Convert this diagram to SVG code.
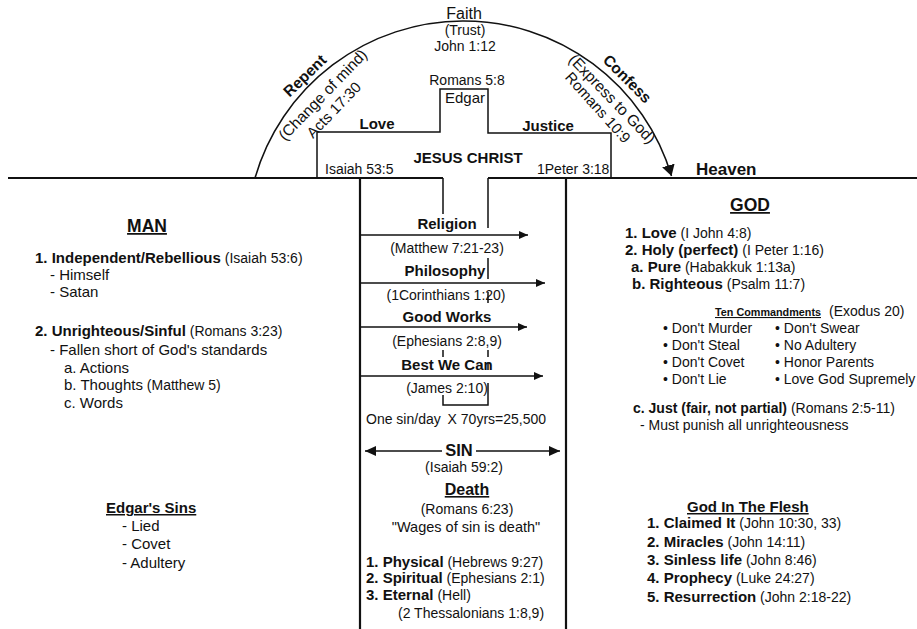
<svg xmlns="http://www.w3.org/2000/svg" width="917" height="629" viewBox="0 0 917 629">
<style>
text{font-family:"Liberation Sans",Arial,Helvetica,sans-serif;fill:#111;font-size:14px}
.b{font-weight:bold;font-size:15px}
.p{font-size:15px}
.h{font-weight:bold;font-size:17.5px;text-decoration:underline}
.m{text-anchor:middle}
.u{text-decoration:underline}
.ln{stroke:#111;fill:none;stroke-width:1.5}
.thick{stroke:#111;fill:none;stroke-width:2.2}
.arr{stroke:#111;fill:none;stroke-width:1.5;marker-end:url(#ah)}
</style>
<defs>
<marker id="ah" viewBox="0 0 9 8" refX="9" refY="4" markerWidth="9" markerHeight="8" markerUnits="userSpaceOnUse" orient="auto"><path d="M0,0 L9,4 L0,8 z" fill="#111"/></marker>
<marker id="ahs" viewBox="0 0 11 10" refX="11" refY="5" markerWidth="11" markerHeight="10" markerUnits="userSpaceOnUse" orient="auto-start-reverse"><path d="M0,0 L11,5 L0,10 z" fill="#111"/></marker>
<marker id="ahb" viewBox="0 0 11 13" refX="11" refY="6.5" markerWidth="11" markerHeight="13" markerUnits="userSpaceOnUse" orient="auto"><path d="M0,0 L11,6.5 L0,13 z" fill="#111"/></marker>
</defs>
<rect width="917" height="629" fill="#fff"/>

<g id="connectors">
  <!-- horizon -->
  <path class="thick" d="M8,178 H443 M488,178 H917"/>
  <!-- faith arc -->
  <path class="ln" d="M255,178 A217,217 0 0 1 671.5,176" marker-end="url(#ahb)"/>
  <!-- central column -->
  <path class="thick" d="M360,178 V629 M566,178 V629"/>
  <!-- cross stem and fragments -->
  <path class="ln" d="M443,178 V214 M488,178 V228 M488,258 V279 M488,292 V303 M443,350 V357 M488,350 V357 M488,362 V370 M488,383 V405 H443 V395"/>
  <!-- human effort arrows -->
  <path class="arr" d="M360,235 H528"/>
  <path class="arr" d="M360,283 H545"/>
  <path class="arr" d="M360,327 H527"/>
  <path class="arr" d="M360,376 H543"/>
  <!-- SIN separation arrow -->
  <path class="ln" d="M365,451 H442" marker-start="url(#ahs)"/>
  <path class="ln" d="M476,451 H560" marker-end="url(#ahs)"/>
</g>

<g id="cross">
  <path class="ln" d="M317,178 V132 H440 V89 H488 V133 H611 V178"/>
  <text x="467" y="85" class="m">Romans 5:8</text>
  <text x="465" y="103" class="m p">Edgar</text>
  <text x="377" y="129" class="m b">Love</text>
  <text x="548" y="131" class="m b">Justice</text>
  <text x="468" y="163" class="m b">JESUS CHRIST</text>
  <text x="325" y="174">Isaiah 53:5</text>
  <text x="537" y="174">1Peter 3:18</text>
</g>

<g id="faith">
  <text x="464" y="19" class="m" style="font-size:16px">Faith</text>
  <text x="465" y="35" class="m">(Trust)</text>
  <text x="465" y="51" class="m">John 1:12</text>
  <text transform="translate(308.5,79.5) rotate(-44)" class="m b" style="font-size:15.5px">Repent</text>
  <text transform="translate(326.5,98.5) rotate(-46)" class="m" style="font-size:15.5px">(Change of mind)</text>
  <text transform="translate(337.5,113.5) rotate(-46)" class="m p">Acts 17:30</text>
  <text transform="translate(623.5,82.5) rotate(45)" class="m b" style="font-size:15.5px">Confess</text>
  <text transform="translate(608.5,102.5) rotate(46)" class="m" style="font-size:15.5px">(Express to God)</text>
  <text transform="translate(594,111) rotate(48)" class="m p">Romans 10:9</text>
</g>

<g id="heaven">
  <text x="696" y="175" class="b" style="font-size:17px">Heaven</text>
</g>

<g id="man">
  <text x="147" y="232" class="m h">MAN</text>
  <text x="35" y="263"><tspan class="b">1. Independent/Rebellious</tspan> (Isaiah 53:6)</text>
  <text x="50" y="280" class="p">- Himself</text>
  <text x="50" y="297" class="p">- Satan</text>
  <text x="35" y="336"><tspan class="b">2. Unrighteous/Sinful</tspan> (Romans 3:23)</text>
  <text x="50" y="355" class="p">- Fallen short of God's standards</text>
  <text x="64" y="373" class="p">a. Actions</text>
  <text x="64" y="390"><tspan class="p">b. Thoughts</tspan> (Matthew 5)</text>
  <text x="64" y="408" class="p">c. Words</text>
</g>

<g id="edgars-sins">
  <text x="106" y="513" class="b u">Edgar's Sins</text>
  <text x="122" y="531" class="p">- Lied</text>
  <text x="122" y="549" class="p">- Covet</text>
  <text x="122" y="568" class="p">- Adultery</text>
</g>

<g id="efforts">
  <text x="447" y="229" class="m b">Religion</text>
  <text x="447" y="253" class="m">(Matthew 7:21-23)</text>
  <text x="445" y="276" class="m b">Philosophy</text>
  <text x="446" y="300" class="m">(1Corinthians 1:20)</text>
  <text x="447" y="322" class="m b">Good Works</text>
  <text x="447" y="346" class="m">(Ephesians 2:8,9)</text>
  <text x="447" y="370" class="m b">Best We Can</text>
  <text x="447" y="393" class="m">(James 2:10)</text>
  <text x="366" y="424">One sin/day <tspan dx="3">X 70yrs=25,500</tspan></text>
</g>

<g id="sin">
  <text x="459" y="456" class="m b" style="font-size:16.5px">SIN</text>
  <text x="464" y="472" class="m">(Isaiah 59:2)</text>
</g>

<g id="death">
  <text x="467" y="495" class="m b u" style="font-size:16px">Death</text>
  <text x="467" y="514" class="m">(Romans 6:23)</text>
  <text x="466" y="532" class="m" style="font-size:14.5px">"Wages of sin is death"</text>
  <text x="366" y="567"><tspan class="b">1. Physical</tspan> (Hebrews 9:27)</text>
  <text x="366" y="583"><tspan class="b">2. Spiritual</tspan> (Ephesians 2:1)</text>
  <text x="366" y="600"><tspan class="b">3. Eternal</tspan> (Hell)</text>
  <text x="398" y="618">(2 Thessalonians 1:8,9)</text>
</g>

<g id="god">
  <text x="750" y="211" class="m h">GOD</text>
  <text x="625" y="238"><tspan class="b">1. Love</tspan> (I John 4:8)</text>
  <text x="625" y="255"><tspan class="b">2. Holy (perfect)</tspan> (I Peter 1:16)</text>
  <text x="631" y="272"><tspan class="b">a. Pure</tspan> (Habakkuk 1:13a)</text>
  <text x="632" y="289"><tspan class="b">b. Righteous</tspan> (Psalm 11:7)</text>
  <text x="633" y="413"><tspan class="b" style="font-size:14px">c. Just (fair, not partial)</tspan> (Romans 2:5-11)</text>
  <text x="640" y="430">- Must punish all unrighteousness</text>
</g>

<g id="ten-commandments">
  <text x="715" y="316" class="u" style="font-weight:bold;font-size:10.8px">Ten Commandments</text>
  <text x="829" y="316">(Exodus 20)</text>
  <text x="663" y="333">• Don't Murder</text>
  <text x="663" y="350">• Don't Steal</text>
  <text x="663" y="367">• Don't Covet</text>
  <text x="663" y="384">• Don't Lie</text>
  <text x="775" y="333">• Don't Swear</text>
  <text x="775" y="350">• No Adultery</text>
  <text x="775" y="367">• Honor Parents</text>
  <text x="775" y="384">• Love God Supremely</text>
</g>

<g id="god-in-the-flesh">
  <text x="687" y="512" class="b u">God In The Flesh</text>
  <text x="647" y="528"><tspan class="b">1. Claimed It</tspan> (John 10:30, 33)</text>
  <text x="647" y="547"><tspan class="b">2. Miracles</tspan> (John 14:11)</text>
  <text x="647" y="565"><tspan class="b">3. Sinless life</tspan> (John 8:46)</text>
  <text x="647" y="583"><tspan class="b">4. Prophecy</tspan> (Luke 24:27)</text>
  <text x="647" y="602"><tspan class="b">5. Resurrection</tspan> (John 2:18-22)</text>
</g>
</svg>
